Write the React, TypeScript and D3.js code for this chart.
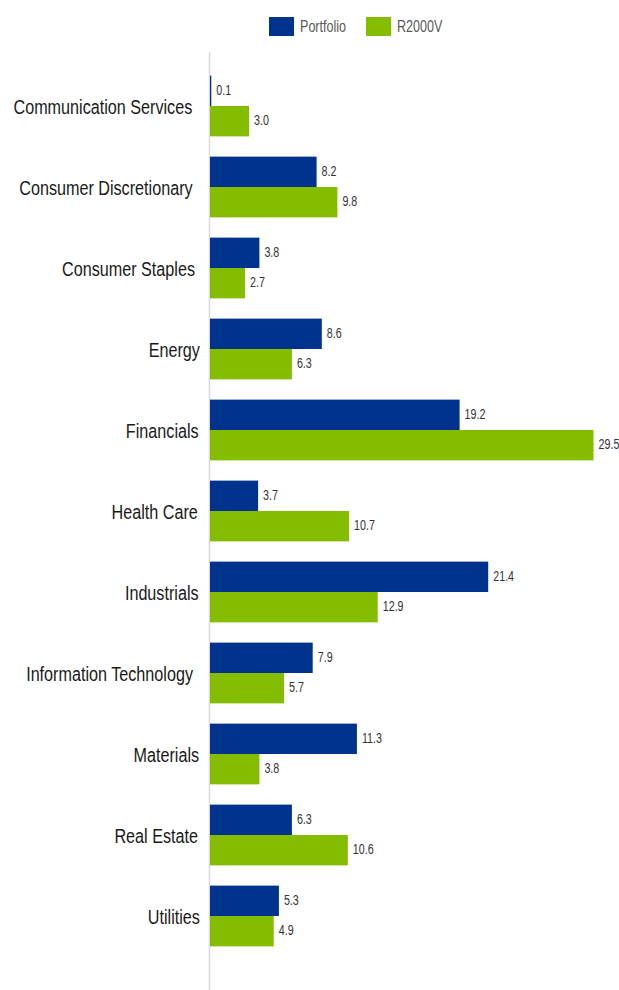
import { useEffect, useRef } from 'react';
import * as d3 from 'd3';

const CATEGORIES = [
  'Communication Services',
  'Consumer Discretionary',
  'Consumer Staples',
  'Energy',
  'Financials',
  'Health Care',
  'Industrials',
  'Information Technology',
  'Materials',
  'Real Estate',
  'Utilities',
];

const PORTFOLIO = [0.1, 8.2, 3.8, 8.6, 19.2, 3.7, 21.4, 7.9, 11.3, 6.3, 5.3];
const R2000V = [3.0, 9.8, 2.7, 6.3, 29.5, 10.7, 12.9, 5.7, 3.8, 10.6, 4.9];

const SERIES = [
  { key: 'Portfolio', values: PORTFOLIO, color: '#00338D' },
  { key: 'R2000V', values: R2000V, color: '#84BD00' },
];

const WIDTH = 619;
const HEIGHT = 990;
const FONT = '"Liberation Sans", Arial, sans-serif';

export default function App() {
  const svgRef = useRef<SVGSVGElement>(null);

  useEffect(() => {
    if (!svgRef.current) return;
    const svg = d3.select(svgRef.current);
    svg.selectAll('*').remove();

    const axisX = 210;

    const x = d3.scaleLinear().domain([0, 30]).range([axisX, axisX + 390]);

    const y = d3
      .scaleBand<string>()
      .domain(CATEGORIES)
      .range([65.5, 956.5])
      .paddingInner(0.25)
      .paddingOuter(0.125);

    const ySub = d3
      .scaleBand<string>()
      .domain(SERIES.map((s) => s.key))
      .range([0, y.bandwidth()]);

    // the reference uses a condensed face; squeeze Arial-metric text horizontally
    const place = (px: number, py: number, k: number) => `translate(${px},${py}) scale(${k},1)`;

    // legend
    const legendX = [269, 366];
    const legend = svg.append('g');
    SERIES.forEach((s, i) => {
      legend
        .append('rect')
        .attr('x', legendX[i])
        .attr('y', 17)
        .attr('width', 25)
        .attr('height', 19)
        .attr('fill', s.color);
      legend
        .append('text')
        .attr('transform', place(legendX[i] + 31, 31.5, 0.74))
        .style('font-family', FONT)
        .style('font-size', '17px')
        .attr('fill', '#595959')
        .text(s.key);
    });

    // axis line
    svg
      .append('line')
      .attr('x1', axisX - 0.5)
      .attr('x2', axisX - 0.5)
      .attr('y1', 52)
      .attr('y2', HEIGHT)
      .attr('stroke', '#d9d9d9')
      .attr('stroke-width', 1.5);

    // category labels (long labels sit a little left of the short ones, as in the source)
    const labelScale = 0.77;
    svg
      .append('g')
      .selectAll('text')
      .data(CATEGORIES)
      .enter()
      .append('text')
      .attr('text-anchor', 'end')
      .style('font-family', FONT)
      .style('font-size', '21px')
      .attr('fill', '#1a1a1a')
      .text((d) => d)
      .attr('transform', function (d) {
        const w = (this as SVGTextElement).getComputedTextLength() * labelScale;
        return place(203 - 0.06 * w, (y(d) ?? 0) + y.bandwidth() / 2 + 7.5, labelScale);
      });

    // bars + value labels
    SERIES.forEach((s) => {
      const g = svg.append('g');
      g.selectAll('rect')
        .data(s.values)
        .enter()
        .append('rect')
        .attr('x', axisX)
        .attr('y', (_, i) => (y(CATEGORIES[i]) ?? 0) + (ySub(s.key) ?? 0))
        .attr('width', (d) => x(d) - axisX)
        .attr('height', ySub.bandwidth())
        .attr('fill', s.color);

      g.selectAll('text')
        .data(s.values)
        .enter()
        .append('text')
        .attr('transform', (d, i) =>
          place(
            x(d) + 5,
            (y(CATEGORIES[i]) ?? 0) + (ySub(s.key) ?? 0) + ySub.bandwidth() / 2 + 3.8,
            0.74
          )
        )
        .style('font-family', FONT)
        .style('font-size', '14.5px')
        .attr('fill', '#333333')
        .text((d) => d.toFixed(1));
    });
  }, []);

  return (
    <svg
      ref={svgRef}
      width={WIDTH}
      height={HEIGHT}
      style={{ position: 'absolute', left: 0, top: 0, background: '#ffffff' }}
    />
  );
}
